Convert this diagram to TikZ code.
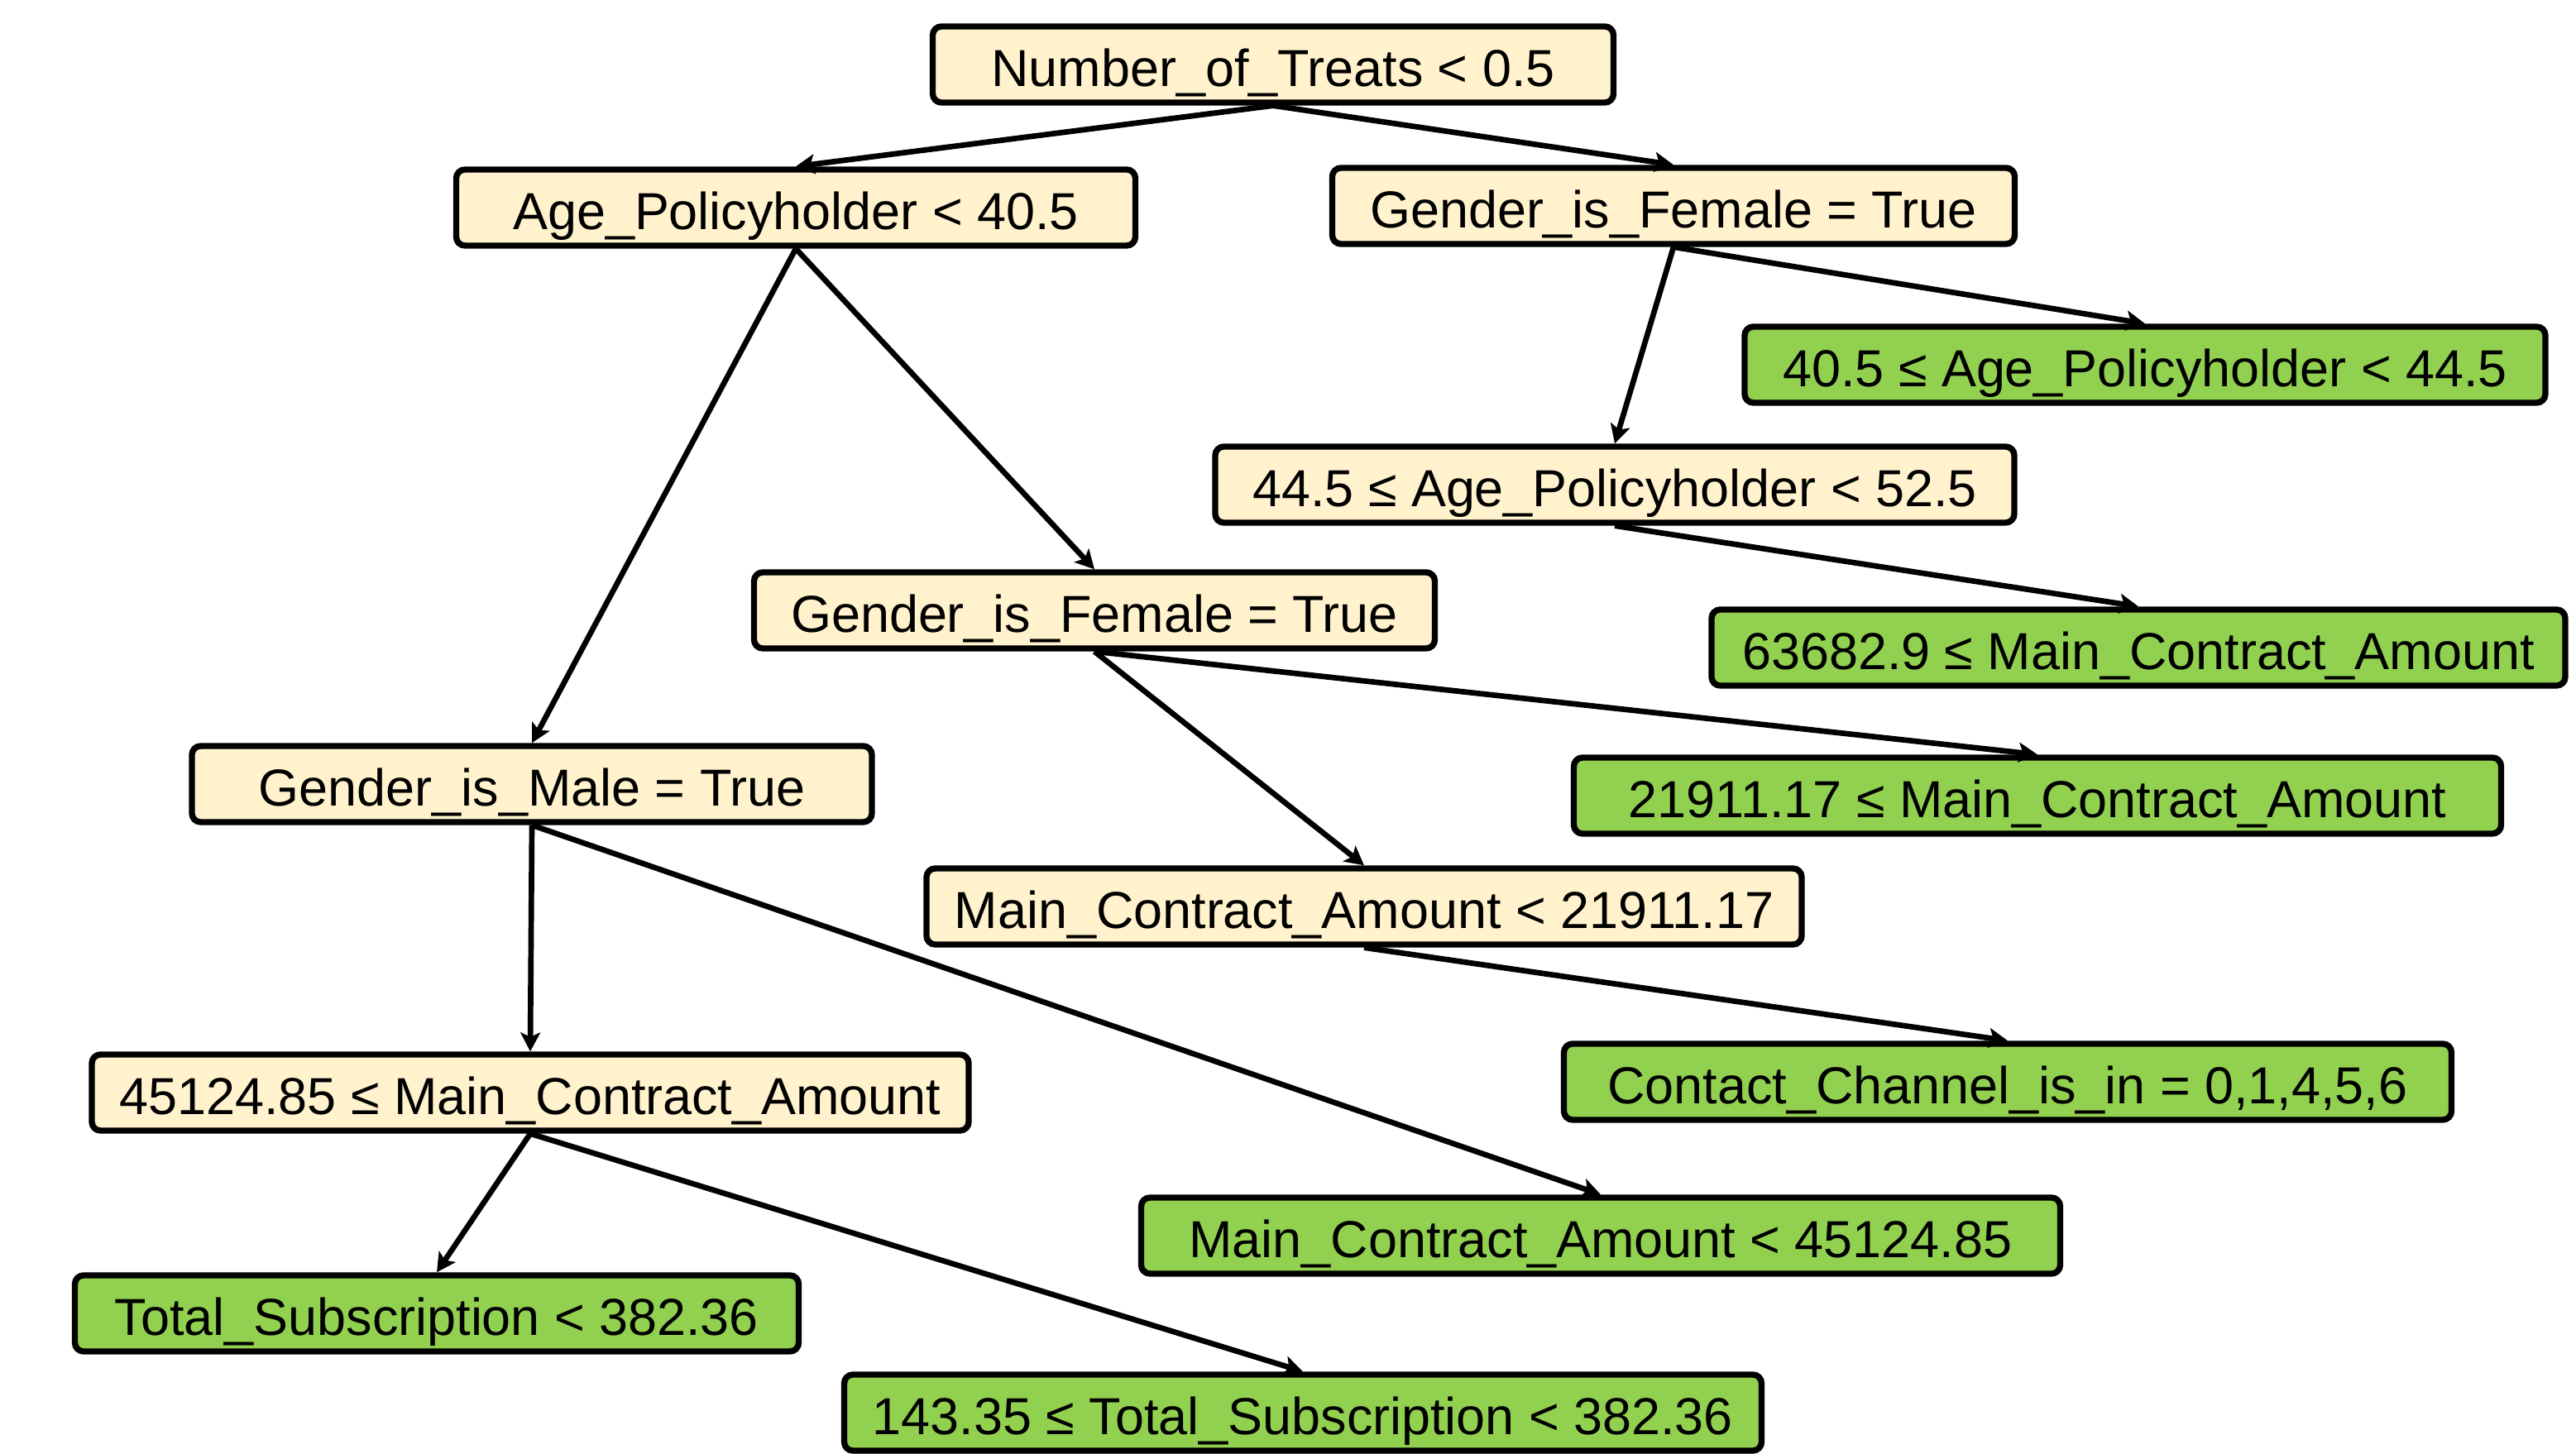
\documentclass[tikz,border=0pt]{standalone}
\usepackage{fontspec}
\setmainfont{Liberation Sans}
\usetikzlibrary{arrows.meta}
\definecolor{Cream}{RGB}{255,242,204}
\definecolor{Leaf}{RGB}{146,208,80}

\begin{document}
\begin{tikzpicture}[
  box/.style={rounded corners=3pt,draw=black,line width=2.1pt,minimum height=.92cm,inner xsep=.3cm,
    text height=.53cm,text depth=0pt,font=\fontsize{17.9}{20}\selectfont},
  test/.style={box,fill=Cream},
  leaf/.style={box,fill=Leaf},
  arr/.style={-{Stealth[length=6.5pt,width=6.8pt,inset=1.5pt]},line width=1.9pt}]
\useasboundingbox (0,0) rectangle (31.14,17.58);
\node[test,minimum width=8.23cm] (treats) at (15.39,16.80) {Number\_of\_Treats < 0.5};
\node[test,minimum width=8.21cm] (age) at (9.62,15.07) {Age\_Policyholder < 40.5};
\node[test,minimum width=8.25cm] (femR) at (20.23,15.09) {Gender\_is\_Female = True};
\node[leaf,minimum width=9.68cm] (ageA) at (25.93,13.17) {40.5 ≤ Age\_Policyholder < 44.5};
\node[test,minimum width=9.66cm] (ageB) at (19.52,11.72) {44.5 ≤ Age\_Policyholder < 52.5};
\node[leaf,minimum width=10.32cm] (amtHigh) at (25.85,9.75) {63682.9 ≤ Main\_Contract\_Amount};
\node[test,minimum width=8.23cm] (femL) at (13.23,10.20) {Gender\_is\_Female = True};
\node[leaf,minimum width=11.21cm] (amtC) at (24.63,7.96) {21911.17 ≤ Main\_Contract\_Amount};
\node[test,minimum width=8.22cm] (male) at (6.43,8.10) {Gender\_is\_Male = True};
\node[test,minimum width=10.58cm] (amtD) at (16.49,6.62) {Main\_Contract\_Amount < 21911.17};
\node[leaf,minimum width=10.73cm] (channel) at (24.27,4.50) {Contact\_Channel\_is\_in = 0,1,4,5,6};
\node[test,minimum width=10.60cm] (amtE) at (6.41,4.37) {45124.85 ≤ Main\_Contract\_Amount};
\node[leaf,minimum width=11.11cm] (amtF) at (19.35,2.64) {Main\_Contract\_Amount < 45124.85};
\node[leaf,minimum width=8.75cm] (subA) at (5.28,1.70) {Total\_Subscription < 382.36};
\node[leaf,minimum width=11.09cm] (subB) at (15.75,0.50) {143.35 ≤ Total\_Subscription < 382.36};
\draw[arr] (treats.south)--(age.north);\draw[arr] (treats.south)--(femR.north);
\draw[arr] (femR.south)--(ageB.north);\draw[arr] (femR.south)--(ageA.north);
\draw[arr] (ageB.south)--(amtHigh.north);
\draw[arr] (age.south)--(male.north);\draw[arr] (age.south)--(femL.north);
\draw[arr] (femL.south)--(amtC.north);\draw[arr] (femL.south)--(amtD.north);
\draw[arr] (amtD.south)--(channel.north);
\draw[arr] (male.south)--(amtE.north);\draw[arr] (male.south)--(amtF.north);
\draw[arr] (amtE.south)--(subA.north);\draw[arr] (amtE.south)--(subB.north);
\end{tikzpicture}
\end{document}
